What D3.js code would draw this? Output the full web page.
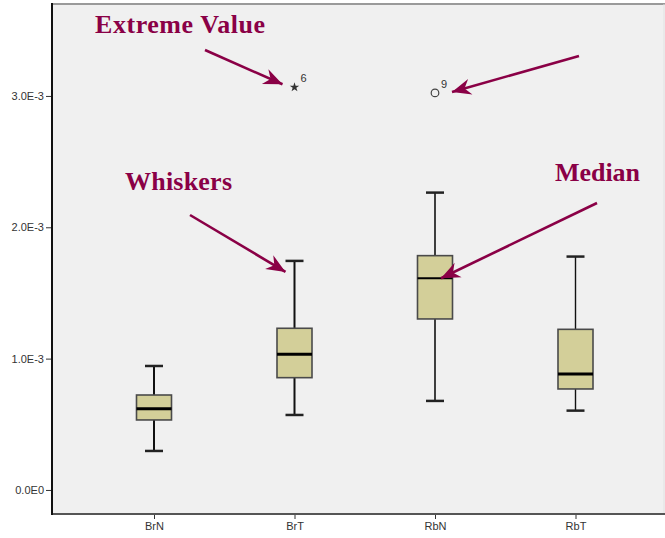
<!DOCTYPE html>
<html>
<head>
<meta charset="utf-8">
<script src="https://cdn.jsdelivr.net/npm/d3@7"></script>
<style>
  html, body { margin: 0; padding: 0; background: #ffffff; }
  svg { display: block; }
</style>
</head>
<body>
<svg id="chart" width="665" height="538"></svg>
<script>
// Group names along the x axis
const categories = ["BrN", "BrT", "RbN", "RbT"];
// Five-number summaries per group
const whiskerLow  = [0.000297, 0.000571, 0.000678, 0.000604];
const quartile1   = [0.000533, 0.000855, 0.001302, 0.000769];
const medians     = [0.000619, 0.001033, 0.001612, 0.000883];
const quartile3   = [0.000723, 0.001231, 0.001784, 0.001223];
const whiskerHigh = [0.000944, 0.001744, 0.002264, 0.001777];
// Cases beyond the whiskers
const outlierGroup = ["BrT", "RbN"];
const outlierValue = [0.003066, 0.003023];
const outlierCase  = ["6", "9"];
const outlierKind  = ["extreme", "outlier"];
// Y axis ticks
const yTickValues = [0, 0.001, 0.002, 0.003];
const yTickLabels = ["0.0E0", "1.0E-3", "2.0E-3", "3.0E-3"];

const plot = { left: 52, right: 665, top: 4, bottom: 514 };
const svg = d3.select("#chart");

const y = d3.scaleLinear().domain([-0.000183, 0.00370]).range([plot.bottom, plot.top]);
const x = d3.scalePoint().domain(categories).range([154, 575.5]);

const boxW = 35, capW = 18;
const maroon = "#8a0046";

// plot background
svg.append("rect")
  .attr("x", plot.left).attr("y", plot.top)
  .attr("width", plot.right - plot.left).attr("height", plot.bottom - plot.top)
  .attr("fill", "#f0f0f0");
svg.append("line")
  .attr("x1", plot.left).attr("x2", plot.right)
  .attr("y1", plot.top).attr("y2", plot.top)
  .attr("stroke", "#9a9a9a").attr("stroke-width", 2);
svg.append("line")
  .attr("x1", plot.right - 1).attr("x2", plot.right - 1)
  .attr("y1", plot.top).attr("y2", plot.bottom)
  .attr("stroke", "#e2e2e2").attr("stroke-width", 1);

// axes
const yAxis = d3.axisLeft(y).tickValues(yTickValues)
  .tickFormat((d, i) => yTickLabels[i]).tickSize(6).tickSizeOuter(0);
const gy = svg.append("g").attr("transform", `translate(${plot.left},0)`).call(yAxis);
gy.select(".domain").remove();
gy.selectAll(".tick line").attr("stroke", "#333");
gy.selectAll(".tick text").attr("font-family", "Liberation Sans, Arial, sans-serif")
  .attr("font-size", 11).attr("fill", "#333").attr("x", -8);

const xAxis = d3.axisBottom(x).tickSize(5).tickSizeOuter(0);
const gx = svg.append("g").attr("transform", `translate(0,${plot.bottom})`).call(xAxis);
gx.select(".domain").remove();
gx.selectAll(".tick line").attr("stroke", "#333");
gx.selectAll(".tick text").attr("font-family", "Liberation Sans, Arial, sans-serif")
  .attr("font-size", 11).attr("fill", "#333").attr("y", 8);

svg.append("line")
  .attr("x1", plot.left).attr("x2", plot.right)
  .attr("y1", plot.bottom).attr("y2", plot.bottom)
  .attr("stroke", "#555").attr("stroke-width", 2);
svg.append("line")
  .attr("x1", plot.left).attr("x2", plot.left)
  .attr("y1", plot.top - 1).attr("y2", plot.bottom + 1)
  .attr("stroke", "#111").attr("stroke-width", 2);

// box plots
const boxes = categories.map((c, i) => ({
  c, lo: whiskerLow[i], q1: quartile1[i], med: medians[i], q3: quartile3[i], hi: whiskerHigh[i]
}));
const whiskerWidth = [2, 2, 1.6, 1.4];
const g = svg.append("g").selectAll("g").data(boxes).join("g");
g.each(function (d, i) {
  const s = d3.select(this), cx = x(d.c);
  const ww = whiskerWidth[i];
  s.append("line").attr("x1", cx).attr("x2", cx).attr("y1", y(d.q3)).attr("y2", y(d.hi))
    .attr("stroke", "#111").attr("stroke-width", ww);
  s.append("line").attr("x1", cx).attr("x2", cx).attr("y1", y(d.lo)).attr("y2", y(d.q1))
    .attr("stroke", "#111").attr("stroke-width", ww);
  s.append("line").attr("x1", cx - capW / 2).attr("x2", cx + capW / 2).attr("y1", y(d.hi)).attr("y2", y(d.hi))
    .attr("stroke", "#222").attr("stroke-width", 2.5);
  s.append("line").attr("x1", cx - capW / 2).attr("x2", cx + capW / 2).attr("y1", y(d.lo)).attr("y2", y(d.lo))
    .attr("stroke", "#222").attr("stroke-width", 2.5);
  s.append("rect").attr("x", cx - boxW / 2).attr("width", boxW)
    .attr("y", y(d.q3)).attr("height", y(d.q1) - y(d.q3))
    .attr("fill", "#d3cf99").attr("stroke", "#4a4a4a").attr("stroke-width", 1.6);
  s.append("line").attr("x1", cx - boxW / 2).attr("x2", cx + boxW / 2).attr("y1", y(d.med)).attr("y2", y(d.med))
    .attr("stroke", "#000").attr("stroke-width", i === 2 ? 2.2 : 3);
});

// outliers and extremes
outlierGroup.forEach((c, i) => {
  const cx = x(c), cy = y(outlierValue[i]);
  if (outlierKind[i] === "extreme") {
    svg.append("path").attr("d", d3.symbol(d3.symbolStar, 28)())
      .attr("transform", `translate(${cx},${cy})`).attr("fill", "#333");
  } else {
    svg.append("circle").attr("cx", cx).attr("cy", cy).attr("r", 3.8)
      .attr("fill", "none").attr("stroke", "#444").attr("stroke-width", 1.2);
  }
  svg.append("text").attr("x", cx + 6).attr("y", cy - 5)
    .attr("font-family", "Liberation Sans, Arial, sans-serif").attr("font-size", 11)
    .attr("fill", "#333").text(outlierCase[i]);
});

// annotation arrows
const defs = svg.append("defs");
defs.append("marker").attr("id", "head")
  .attr("markerUnits", "userSpaceOnUse").attr("orient", "auto")
  .attr("viewBox", "-20 -10 22 20").attr("refX", 0).attr("refY", 0)
  .attr("markerWidth", 22).attr("markerHeight", 20)
  .append("path").attr("d", "M0,0 L-19,-8 L-13,0 L-19,8 Z").attr("fill", maroon);

const bi = categories.indexOf("BrT"), ri = categories.indexOf("RbN");
const arrows = [
  { from: [205, 50],  to: [x("BrT") - 12, y(outlierValue[0]) - 3] },
  { from: [579, 56],  to: [x("RbN") + 17, y(outlierValue[1]) - 1] },
  { from: [190, 215], to: [x("BrT") - 9, y(whiskerHigh[bi]) + 11] },
  { from: [597, 203], to: [x("RbN") + 6, y(medians[ri])] }
];
svg.append("g").selectAll("line").data(arrows).join("line")
  .attr("x1", d => d.from[0]).attr("y1", d => d.from[1])
  .attr("x2", d => d.to[0]).attr("y2", d => d.to[1])
  .attr("stroke", maroon).attr("stroke-width", 2.6)
  .attr("marker-end", "url(#head)");

// annotation labels
const labels = [
  { t: "Extreme Value", x: 95, y: 33, w: 170 },
  { t: "Whiskers", x: 125, y: 190, w: 107 },
  { t: "Median", x: 555, y: 181, w: 85 }
];
svg.append("g").selectAll("text").data(labels).join("text")
  .attr("x", d => d.x).attr("y", d => d.y)
  .attr("textLength", d => d.w).attr("lengthAdjust", "spacing")
  .attr("font-family", "Liberation Serif, Times New Roman, serif")
  .attr("font-weight", "bold").attr("font-size", 26)
  .attr("fill", maroon).text(d => d.t);
</script>
</body>
</html>
